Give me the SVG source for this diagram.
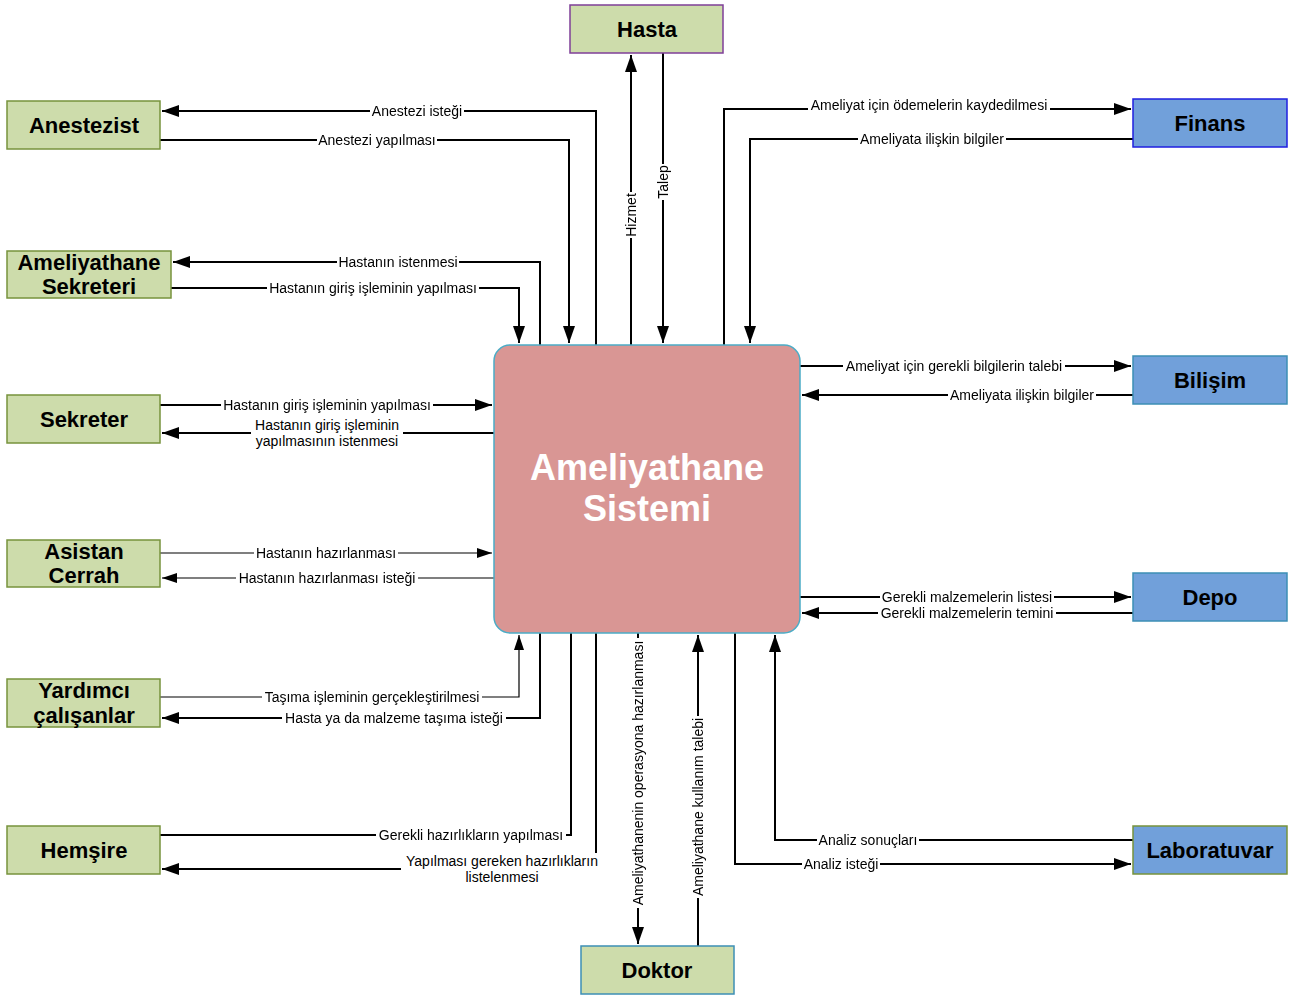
<svg xmlns="http://www.w3.org/2000/svg" width="1293" height="995" viewBox="0 0 1293 995">
<style>
.n{font-family:"Liberation Sans",Arial,sans-serif;font-weight:bold;font-size:22px;fill:#000;text-anchor:middle;dominant-baseline:central}
.g{fill:#CDDCAB;stroke:#77933C;stroke-width:1.5}
.b{fill:#71A0DA;stroke:#3D8FB5;stroke-width:1.5}
.m{font-family:"Liberation Sans",Arial,sans-serif;font-size:14px;fill:#000;text-anchor:middle;dominant-baseline:central}
.l{font-family:"Liberation Sans",Arial,sans-serif;font-size:14px;fill:#000;text-anchor:middle;dominant-baseline:central;filter:url(#bg)}
.c{fill:none;stroke:#000;stroke-width:2}
.t{fill:none;stroke:#000;stroke-width:1.2}
</style>
<defs>
<filter id="bg" x="-0.01" y="0" width="1.02" height="1" color-interpolation-filters="sRGB"><feFlood flood-color="#fff"/><feComposite in="SourceGraphic" operator="over"/></filter>
<marker id="a" markerUnits="userSpaceOnUse" markerWidth="18" markerHeight="14" refX="17" refY="7" orient="auto"><path d="M0,1 L17,7 L0,13 z" fill="#000"/></marker>
<marker id="s" markerUnits="userSpaceOnUse" markerWidth="16" markerHeight="12" refX="15" refY="6" orient="auto"><path d="M0,1 L15,6 L0,11 z" fill="#000"/></marker>
</defs>
<rect width="1293" height="995" fill="#fff"/>
<g id="connectors">
<path class="c" d="M596,345 V111 H162" marker-end="url(#a)"/>
<path class="c" d="M160,140 H569 V343" marker-end="url(#a)"/>
<path class="c" d="M540,345 V262 H173" marker-end="url(#a)"/>
<path class="c" d="M171,288 H519 V343" marker-end="url(#a)"/>
<path class="c" d="M631,345 V55" marker-end="url(#a)"/>
<path class="c" d="M663,53 V343" marker-end="url(#a)"/>
<path class="c" d="M724,345 V109 H1131" marker-end="url(#a)"/>
<path class="c" d="M1133,139 H750 V343" marker-end="url(#a)"/>
<path class="c" d="M160,405 H492" marker-end="url(#a)"/>
<path class="c" d="M494,433 H162" marker-end="url(#a)"/>
<path class="t" d="M160,553 H492" marker-end="url(#s)"/>
<path class="t" d="M494,578 H162" marker-end="url(#s)"/>
<path class="t" d="M160,697 H519 V635" marker-end="url(#s)"/>
<path class="c" d="M540,633 V718 H162" marker-end="url(#a)"/>
<path class="c" d="M160,835 H571 V633"/>
<path class="c" d="M596,633 V869 H162" marker-end="url(#a)"/>
<path class="c" d="M638,633 V944" marker-end="url(#a)"/>
<path class="c" d="M698,946 V635" marker-end="url(#a)"/>
<path class="c" d="M735,633 V864 H1131" marker-end="url(#a)"/>
<path class="c" d="M1133,840 H775 V635" marker-end="url(#a)"/>
<path class="c" d="M800,366 H1131" marker-end="url(#a)"/>
<path class="c" d="M1133,395 H802" marker-end="url(#a)"/>
<path class="c" d="M800,597 H1131" marker-end="url(#a)"/>
<path class="c" d="M1133,613 H802" marker-end="url(#a)"/>
<text class="l" x="417" y="111">Anestezi isteği</text>
<text class="l" x="377" y="140">Anestezi yapılması</text>
<text class="l" x="398" y="262">Hastanın istenmesi</text>
<text class="l" x="373" y="288">Hastanın giriş işleminin yapılması</text>
<text class="l" transform="rotate(-90 631 215)" x="631" y="215">Hizmet</text>
<text class="l" transform="rotate(-90 663 182)" x="663" y="182">Talep</text>
<text class="l" x="929" y="105">Ameliyat için ödemelerin kaydedilmesi</text>
<text class="l" x="932" y="139">Ameliyata ilişkin bilgiler</text>
<text class="l" x="327" y="405">Hastanın giriş işleminin yapılması</text>
<rect x="251" y="417" width="152" height="33" fill="#fff"/>
<text class="m" x="327" y="425">Hastanın giriş işleminin</text>
<text class="m" x="327" y="441">yapılmasının istenmesi</text>
<text class="l" x="326" y="553">Hastanın hazırlanması</text>
<text class="l" x="327" y="578">Hastanın hazırlanması isteği</text>
<text class="l" x="372" y="697">Taşıma işleminin gerçekleştirilmesi</text>
<text class="l" x="394" y="718">Hasta ya da malzeme taşıma isteği</text>
<text class="l" x="471" y="835">Gerekli hazırlıkların yapılması</text>
<rect x="401" y="853" width="202" height="33" fill="#fff"/>
<text class="m" x="502" y="861">Yapılması gereken hazırlıkların</text>
<text class="m" x="502" y="877">listelenmesi</text>
<text class="l" transform="rotate(-90 638 773)" x="638" y="773">Ameliyathanenin operasyona hazırlanması</text>
<text class="l" transform="rotate(-90 698 807)" x="698" y="807">Ameliyathane kullanım talebi</text>
<text class="l" x="841" y="864">Analiz isteği</text>
<text class="l" x="868" y="840">Analiz sonuçları</text>
<text class="l" x="954" y="366">Ameliyat için gerekli bilgilerin talebi</text>
<text class="l" x="1022" y="395">Ameliyata ilişkin bilgiler</text>
<text class="l" x="967" y="597">Gerekli malzemelerin listesi</text>
<text class="l" x="967" y="613">Gerekli malzemelerin temini</text>
</g>
<g id="center">
<rect x="494" y="345" width="306" height="288" rx="16" fill="#D99694" stroke="#4BACC6" stroke-width="1.5"/>
<text class="n" x="647" y="467" style="fill:#fff;font-size:36px">Ameliyathane</text>
<text class="n" x="647" y="508" style="fill:#fff;font-size:36px">Sistemi</text>
</g>
<g id="hasta"><rect class="g" x="570" y="5" width="153" height="48" style="stroke:#7F3F98"/><text class="n" x="647" y="29">Hasta</text></g>
<g id="anestezist"><rect class="g" x="7" y="101" width="153" height="48"/><text class="n" x="84" y="125">Anestezist</text></g>
<g id="ameliyathane-sekreteri"><rect class="g" x="7" y="251" width="164" height="47"/><text class="n" x="89" y="262">Ameliyathane</text><text class="n" x="89" y="286">Sekreteri</text></g>
<g id="sekreter"><rect class="g" x="7" y="395" width="153" height="48"/><text class="n" x="84" y="419">Sekreter</text></g>
<g id="asistan-cerrah"><rect class="g" x="7" y="540" width="153" height="47"/><text class="n" x="84" y="551">Asistan</text><text class="n" x="84" y="575">Cerrah</text></g>
<g id="yardimci"><rect class="g" x="7" y="679" width="153" height="48"/><text class="n" x="84" y="690">Yardımcı</text><text class="n" x="84" y="715">çalışanlar</text></g>
<g id="hemsire"><rect class="g" x="7" y="826" width="153" height="48"/><text class="n" x="84" y="850">Hemşire</text></g>
<g id="doktor"><rect class="g" x="581" y="946" width="153" height="48" style="stroke:#3D8FB5"/><text class="n" x="657" y="970">Doktor</text></g>
<g id="finans"><rect class="b" x="1133" y="99" width="154" height="48" style="stroke:#1F1FE0"/><text class="n" x="1210" y="123">Finans</text></g>
<g id="bilisim"><rect class="b" x="1133" y="356" width="154" height="48"/><text class="n" x="1210" y="380">Bilişim</text></g>
<g id="depo"><rect class="b" x="1133" y="573" width="154" height="48"/><text class="n" x="1210" y="597">Depo</text></g>
<g id="laboratuvar"><rect class="b" x="1133" y="826" width="154" height="48" style="stroke:#77933C"/><text class="n" x="1210" y="850">Laboratuvar</text></g>
</svg>
